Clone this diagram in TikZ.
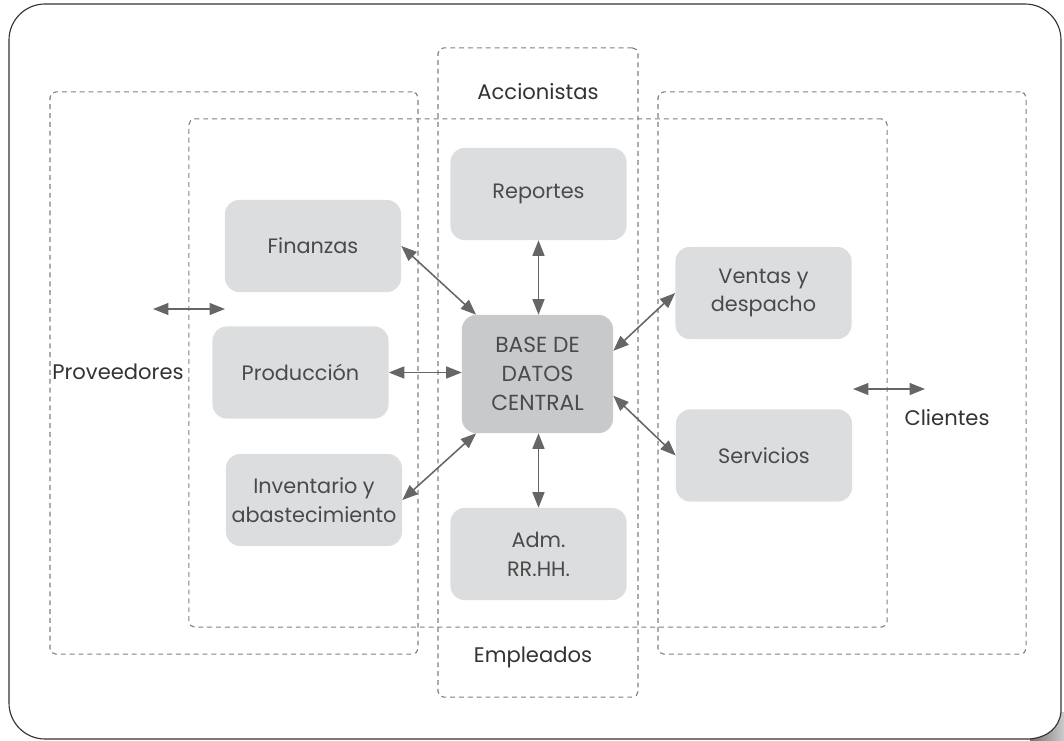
\documentclass[tikz,border=0pt]{standalone}
\usepackage{fontspec}
\setmainfont{Poppins}
\usetikzlibrary{arrows.meta}

\definecolor{boxgray}{HTML}{DCDDDF}
\definecolor{basegray}{HTML}{C8C9CB}
\definecolor{linkgray}{HTML}{666666}
\definecolor{dashgray}{HTML}{808080}
\definecolor{txtgray}{HTML}{4A4A4A}

\begin{document}
\begin{tikzpicture}[
    % GLOBAL CFG
    x=0.025cm, y=-0.025cm,
    font=\fontsize{14.8}{20.5}\selectfont,
    >={Triangle[length=11pt, width=8.5pt]},
    % Styles
    module/.style={% For the light grey blocks
        rectangle,
        rounded corners=10pt,
        fill=boxgray,
        text=txtgray,
        align=center,
        inner sep=2pt,
        minimum width=4.4cm,
        minimum height=2.3cm,
        },
    core/.style={% For the central data base
        module,
        fill=basegray,
        font=\fontsize{15.5}{20.5}\selectfont,
        minimum width=3.775cm,
        minimum height=2.95cm,
        },
    zone/.style={% For the dashed groups
        rectangle,
        rounded corners=4pt,
        draw=dashgray,
        line width=0.8pt,
        dash pattern=on 3.5pt off 2.8pt,
        inner sep=0pt,
        },
    actor/.style={% outside parties
        text=black!80,
        font=\fontsize{15}{18}\selectfont,
        },
    link/.style={% double arrows
        <->,
        draw=linkgray,
        line width=1.1pt,
        },
    frame/.style={%
        draw=black!80,
        line width=0.8pt,
        },
    ]

\useasboundingbox (0,0) rectangle (1064,741);

    % Draw the page frame
    \draw [frame, rounded corners=0.9cm] (1061,712) -- (1061,4) -- (9,4) -- (9,739) -- (1030,739);
    \shade [left color=black!55, right color=black!20] (1030,739) .. controls (1048,737) and (1059,728) .. (1061,712) -- (1064,712) -- (1064,741) -- (1030,741) -- cycle;
    \draw [frame] (1030,739) .. controls (1048,737) and (1059,728) .. (1061,712);

    % Draw the dashed zones
    \node [zone, minimum width=9.2cm, minimum height=14.05cm] (zprov) at (234,373) {};
    \node [zone, minimum width=9.2cm, minimum height=14.05cm] (zcli) at (842,373) {};
    \node [zone, minimum width=17.45cm, minimum height=12.7cm] (zint) at (538,373) {};
    \node [zone, minimum width=5cm, minimum height=16.225cm] (zemp) at (538,372.5) {};

    % Outside parties
    \node [actor] (acc) at (538,92) {Accionistas};
    \node [actor] (emp) at (533,657) {Empleados};
    \node [actor] (prov) at (118,372) {Proveedores};
    \node [actor] (cli) at (947,418) {Clientes};

    % Draw modules
    \node [core] (base) at (537.5,374) {BASE DE\\DATOS\\CENTRAL};
    \node [module] (rep) at (538.5,194) {Reportes};
    \node [module] (adm) at (538.5,554) {Adm.\\RR.HH.};
    \node [module] (fin) at (313,246) {Finanzas};
    \node [module] (prod) at (300.5,372.5) {Producción};
    \node [module] (inv) at (314,500) {Inventario y\\abastecimiento};
    \node [module] (ven) at (763.5,293) {Ventas y\\despacho};
    \node [module] (serv) at (764,455.5) {Servicios};

    % Free arrow ends
    \coordinate (provA) at (153,309);
    \coordinate (provB) at (225,309);
    \coordinate (cliA) at (853,389);
    \coordinate (cliB) at (925,389);

% Connecting all
    \draw [link] (fin.east) -- (base.136);
    \draw [link] (prod.east) -- (base.west |- prod.east);
    \draw [link] (inv.east) -- (base.224);
    \draw [link] (rep.south) -- (rep.south |- base.north);
    \draw [link] (adm.north) -- (adm.north |- base.south);
    \draw [link] (ven.west) -- (base.17);
    \draw [link] (serv.west) -- (base.-16);
    \draw [link] (provA) -- (provB);
    \draw [link] (cliA) -- (cliB);

\end{tikzpicture}
\end{document}
